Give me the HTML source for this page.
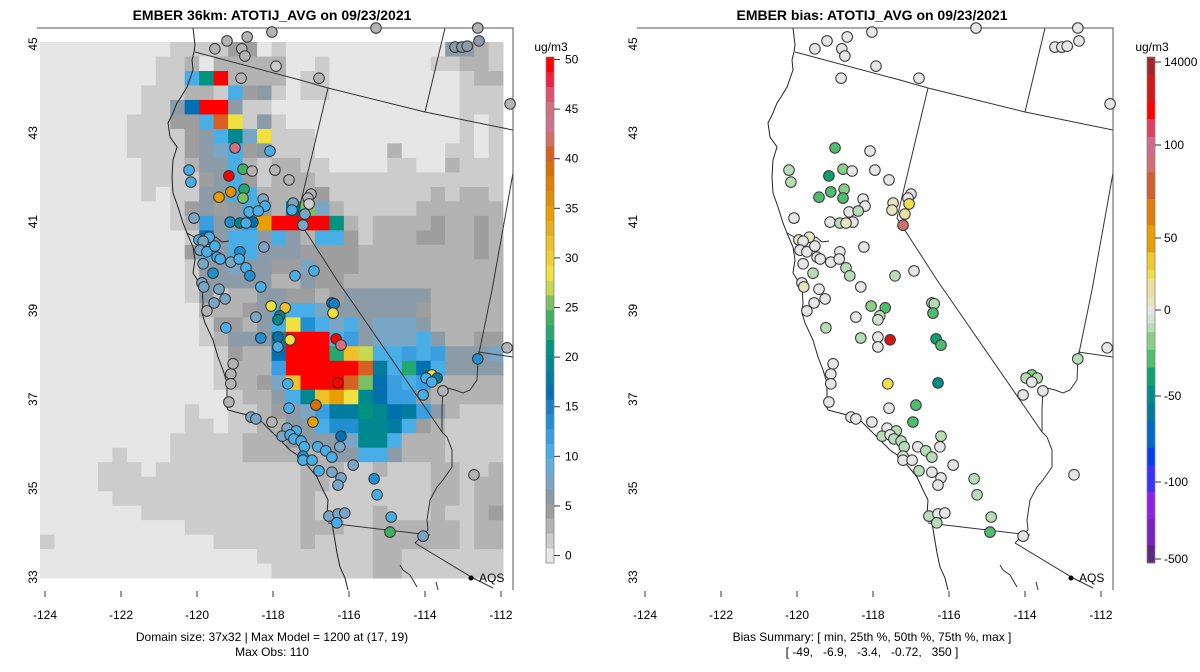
<!DOCTYPE html>
<html><head><meta charset="utf-8"><title>EMBER ATOTIJ_AVG</title>
<style>
html,body{margin:0;padding:0;background:#fff;}
svg{display:block;font-family:"Liberation Sans",Arial,sans-serif;}
</style></head>
<body>
<svg id="root" width="1200" height="672" viewBox="0 0 1200 672" xmlns="http://www.w3.org/2000/svg">
<defs><clipPath id="clipL"><rect x="0" y="28" width="513" height="562"/></clipPath></defs>
<text x="272" y="20" text-anchor="middle" font-size="14" font-weight="bold">EMBER 36km: ATOTIJ_AVG on 09/23/2021</text>
<text x="872" y="20" text-anchor="middle" font-size="14" font-weight="bold">EMBER bias: ATOTIJ_AVG on 09/23/2021</text>
<text x="272" y="641" text-anchor="middle" font-size="12">Domain size: 37x32 | Max Model = 1200 at (17, 19)</text>
<text x="272" y="656" text-anchor="middle" font-size="12">Max Obs: 110</text>
<text x="872" y="641" text-anchor="middle" font-size="12">Bias Summary: [ min, 25th %, 50th %, 75th %, max ]</text>
<text x="872" y="656" text-anchor="middle" font-size="12" xml:space="preserve">[ -49,   -6.9,   -3.4,   -0.72,   350 ]</text>
<g id="leftPanel"></g>
<g id="rightPanel"></g>
<g id="leftBar"></g>
<g id="rightBar"></g>
</svg>
<script>
const gridRows=[
"aaaaaaaaabbbbddabaaaaaaaaaaaeecb",
"aaaaaaaabbcacccccaabaaaaaaabbccb",
"aaaaaaaabbgmvccccabbaaaaaaaaabcc",
"aaaaaaabbbccbgdebabbaaaaaaaaabbb",
"aaaaaaabbejvvebbaaaaaaaaaaaaabbb",
"aaaaaabbbddgtqbebaaaaaaaaaaaabab",
"aaaaaabbbbdeglfqbbbaaaaaaaaaabab",
"aaaaaabbbbdefgdebbbaaaaacaaabbab",
"aaaaaaabbbceegcbccbbaaaabbaacbbb",
"aaaaaaabbbbdegdbcccbbbbbbbbbbbbb",
"aaaaaaababbeeggccccdbbbbbbbcbccb",
"aaaaaaaaabdedegeckofcbbbbbcccccc",
"aaaaaaaaabcheehsvvvvmcbccccdccdc",
"aaaaaaaaaabjeggegecggdbcccddccdc",
"aaaaaaaaaadgeggeeeddddccccccccdc",
"aaaaaaaaaabeefeeddfdddcccccccccc",
"aaaaaaaaaabeeeeecceddccccccccccc",
"aaaaaaaaaabebcceeddcdeeeeeeccccc",
"aaaaaaaaaaacccdegggfeeeeeedccccc",
"aaaaaaaaaaabddcegqigfgefffeccccc",
"aaaaaaaaaaabceeelvvvghefffgeccdd",
"aaaaaaaaaaaabdccjvvvnrpgghgheeef",
"aaaaaaaaaaaabccchvvvvvtkgnjgeeee",
"aaaaaaaaaaaabccdfrvvvtojhghccccc",
"aaaaaaaaaaaaabcceglrsqljhhdccccc",
"aaaaaaaaaabaabbcdefhkkmljkhecbbb",
"aaaaaaaaaabbabbcceegiillkgdcbbbb",
"aaaaaaaaabbbbbccceeeefllgcccbbbb",
"aaaaabaaabbbbbcccccceeggecccbbbb",
"aaaabbbabbbbbbbbbbcccbbcbbbccbbc",
"aaaabbbbbbbbbbbbbbccbbbbbbbccbcc",
"aaaaabbbbbbbbbbbbbcbbbbbbbbccbcc",
"aaaaaaabbbbbbbbbbbcbbbbcbbbcbbcd",
"aaaaaaaaaabbbbbbbbcccbbccccccbcc",
"baaaaaaaaaaabbbbbbcbbbbccccccbcc",
"aaaaaaaaaaaaaaabbbbbbbbccbbbbbbb",
"aaaaaaaaaaaaaaaabbbbbbbccbbbbbbb"];
const levelCodes="abcdefghijklmnopqrstuv";
const levelValues=[0,1.5,3,4.5,6,7.5,10.5,12,13.5,16.5,18,19.5,21,22.5,25.5,27,28.5,31.5,34.5,40.5,46.5,51];
const concPalette=["#e6e6e6","#cccccc","#b3b3b3","#9e9e9e","#8c9ba8","#7aa6c6","#63aedc","#4aaee6","#3a9ee0","#2090d0","#1a7ec4","#0070b0","#007ca0","#008890","#009480","#22a870","#40b060","#7ac060","#c8d850","#f0e040","#f0d030","#f0c028","#e8b018","#e8a000","#e09000","#e08000","#d87000","#d86020","#d07060","#d07090","#d07080","#e05070","#f02040","#ff0000"];
const concTicks=[0,5,10,15,20,25,30,35,40,45,50];
const biasStopVals=[-150,-130,-115,-100,-85,-70,-60,-50,-40,-30,-20,-10,-3,0,5,15,25,35,50,65,80,90,100,110,120,135,150];
const biasStopCols=["#5a2a80","#7a22c0","#9020e8","#3a30ff","#0040f0","#0068c8","#007a9c","#008c88","#10a070","#50bc70","#88d088","#b8dcb8","#d4e2d4","#e6e6e6","#e8e4c0","#ece0a0","#f0e050","#f0c830","#e8a000","#e08000","#d06030","#d07070","#d06890","#e04060","#ff0000","#d01818","#a02828"];
const biasTickLabels=["14000","100","50","0","-50","-100","-500"];
const biasTickVals=[150,100,50,0,-50,-100,-150];
const xTicks=[-124,-122,-120,-118,-116,-114,-112];
const yTicks=[45,43,41,39,37,35,33];
const stLon=[-118.68,-119.21,-118.03,-119.53,-118.82,-118.74,-117.92,-118.84,-116.79,-115.29,-113.21,-113.03,-112.89,-112.58,-112.61,-111.76,-119.00,-118.08,-120.21,-120.16,-119.16,-118.79,-118.55,-117.95,-117.58,-118.76,-119.11,-119.42,-118.79,-118.26,-118.21,-118.63,-118.39,-118.53,-119.13,-118.87,-118.71,-120.08,-117.00,-117.08,-117.47,-117.05,-117.50,-117.16,-117.21,-119.95,-119.68,-119.84,-119.92,-119.74,-119.53,-119.47,-119.39,-119.11,-118.87,-118.89,-118.24,-119.84,-119.58,-118.71,-118.61,-119.87,-119.82,-119.42,-119.26,-119.55,-119.74,-118.32,-117.42,-116.92,-116.45,-116.39,-116.42,-118.05,-117.68,-117.82,-117.87,-118.45,-119.24,-118.32,-117.87,-117.55,-117.87,-116.34,-116.21,-111.84,-119.05,-119.11,-119.11,-117.61,-116.29,-119.16,-117.58,-116.87,-116.95,-118.58,-118.45,-118.03,-117.63,-117.39,-117.76,-117.55,-117.45,-117.26,-117.18,-116.21,-116.82,-116.61,-116.45,-116.24,-117.21,-117.21,-116.97,-115.89,-116.79,-116.45,-116.21,-116.29,-115.34,-115.26,-116.53,-116.29,-116.11,-116.32,-114.89,-114.92,-114.05,-112.61,-113.82,-113.97,-113.68,-113.82,-114.05,-113.53,-112.71];
const stLat=[45.16,45.07,45.27,44.89,44.89,44.73,44.50,44.23,44.23,45.36,44.93,44.93,44.95,45.07,45.36,43.65,42.66,42.59,42.16,41.89,42.03,42.18,42.14,42.16,41.94,41.73,41.67,41.55,41.53,41.51,41.35,41.22,41.24,40.99,40.99,40.97,40.97,41.08,41.62,41.53,41.42,41.40,41.26,41.17,40.92,40.59,40.65,40.56,40.36,40.32,40.45,40.20,40.16,40.09,40.32,40.16,40.43,40.05,39.84,39.96,39.78,39.62,39.53,39.48,39.26,39.17,38.99,39.53,39.78,39.89,39.17,39.15,38.94,39.10,39.06,38.88,38.79,38.85,38.61,38.38,38.40,38.34,38.18,38.36,38.22,38.16,37.80,37.57,37.35,37.35,37.37,36.94,36.80,36.87,36.49,36.60,36.56,36.49,36.35,36.29,36.17,36.20,36.11,36.06,35.93,36.17,35.93,35.84,35.70,35.93,35.72,35.63,35.63,35.52,35.39,35.36,35.23,35.07,35.21,34.85,34.37,34.42,34.44,34.22,34.35,34.01,33.92,37.91,37.55,37.48,37.48,37.39,37.10,37.19,35.30];
const stObs=[3,3,3,3,3,3,1,3,3,3,6,6,6,6,3,3,45,11,11,11,50,24,3,3,3,22,36,34,26,7,11,11,11,17,13,20,11,7,3,3,7,1,11,7,7,11,11,7,7,11,11,11,11,7,13,11,7,7,13,11,13,7,7,7,7,7,3,11,11,11,15,15,28,28,32,20,20,7,11,13,17,28,11,50,45,3,3,3,3,11,50,3,11,39,34,7,7,3,7,11,7,11,11,11,11,17,11,11,11,7,13,11,11,7,11,7,7,7,13,11,7,7,7,11,11,24,7,13,28,11,18,11,11,3,3];
const stBias=[0,0,0,0,0,0,0,0,0,0,0,0,0,0,0,0,-30,0,-8,-8,-35,-15,0,0,0,-15,-30,-30,-25,0,0,0,-8,0,0,-8,5,0,0,0,8,25,8,20,95,8,8,0,0,0,0,0,0,0,0,0,0,0,-8,-10,-10,0,8,0,0,0,0,0,-8,0,-10,-10,-25,-15,-25,-10,-5,0,-8,-10,0,140,0,-40,-25,0,0,0,0,25,-50,0,0,-25,-25,0,0,0,0,-8,-8,0,-8,-8,-8,-10,0,-8,-8,0,-5,0,0,0,-8,0,0,0,-10,-10,-8,0,0,-8,-8,-25,0,-8,-20,-8,-8,0,0,0,0];

const NS="http://www.w3.org/2000/svg";
function mk(tag,attrs,parent){const e=document.createElementNS(NS,tag);for(const k in attrs)e.setAttribute(k,attrs[k]);if(parent)parent.appendChild(e);return e;}
function xScale(lon){return 45+(lon+124)*38;}
function yScale(lat){return 577-(lat-33)*44.42;}
function concColor(v){let i=Math.round(v/1.5);if(i<0)i=0;if(i>33)i=33;return concPalette[i];}
function biasColor(v){let best=0,bd=1e9;for(let i=0;i<biasStopVals.length;i++){const d=Math.abs(biasStopVals[i]-v);if(d<bd){bd=d;best=i;}}return biasStopCols[best];}
const GX0=40,GY0=42,CW=14.47,CH=14.49;

const coast="M193,28 L195,45 L194,52 L192,60 L193,70 L187,87 L181,97 L177,103 L173,113 L168,123 L170,137 L177,147 L173,160 L172,177 L173,193 L178,207 L183,223 L187,233 L193,247 L195,260 L193,273 L202,287 L203,303 L202,313 L205,323 L213,340 L218,357 L223,370 L227,383 L227,397 L225,403 L228,410 L247,415 L260,420 L270,430 L280,440 L290,450 L300,457 L307,465 L317,477 L323,490 L328,500 L327,515 L332,523 L337,553 L340,567 L345,578 L348,590";
const bay="M187,233 L196,238 L203,236 L210,239 L216,237 L222,242 L229,241 M203,236 L206,244";
const borders=["M195,52 L300,80 L328,88 L425,112 L513,130","M445,28 L425,112","M328,88 L297,218 L337,280 L442,432","M442,432 L447,437 L452,450 L452,467 L443,480 L437,487 L430,500 L427,520 L428,530 L415,543","M513,173 L492,290 L478,358","M478,352 L513,357","M478,358 L477,380 L470,390 L463,393 L455,390 L443,387 L442,410 L442,432","M328,523 L430,535","M415,543 L473,578 L493,588","M400,565 L403,570 L410,575 L417,587","M436,582 L438,590"];

function drawPanel(g,isLeft){
  const off=isLeft?0:600;
  const pg=mk('g',{transform:'translate('+off+',0)'},g);
  if(isLeft){
    const gg=mk('g',{},pg);
    
    
    for(let r=0;r<gridRows.length;r++){
      for(let c=0;c<gridRows[r].length;c++){
        const v=levelValues[levelCodes.indexOf(gridRows[r][c])];
        const cell=mk('rect',{x:(GX0+c*CW).toFixed(2),y:(GY0+r*CH).toFixed(2),width:(CW+0.4).toFixed(2),height:(CH+0.4).toFixed(2),fill:concColor(v)},gg);
        
        
      }
    }
  }
  const lg=mk('g',{'clip-path':'url(#clipL)',fill:'none',stroke:'#333','stroke-width':'1'},pg);
  
  
  const cp=mk('path',{d:coast,stroke:'#222'},lg);
  
  
  const bp=mk('path',{d:bay,stroke:'#222'},lg);
  
  
  borders.forEach(d=>{const p=mk('path',{d:d},lg);
    
    });
  const fr=mk('path',{d:'M37,28 L513,28 L513,590',fill:'none',stroke:'#555','stroke-width':'1'},pg);
  
  
  const sg=mk('g',{},pg);
  
  
  for(let i=0;i<stLon.length;i++){
    const col=isLeft?concColor(stObs[i]):biasColor(stBias[i]);
    const c=mk('circle',{cx:xScale(stLon[i]).toFixed(1),cy:yScale(stLat[i]).toFixed(1),r:5.3,fill:col,stroke:'#333','stroke-width':'1'},sg);
    
    
  }
  const ad=mk('circle',{cx:471,cy:578,r:2.5,fill:'#000'},pg);
  
  
  const at=mk('text',{x:479,y:582,'font-size':'12'},pg);at.textContent='AQS';
  
  
  xTicks.forEach(t=>{
    const x=xScale(t);
    const tk=mk('line',{x1:x,x2:x,y1:591,y2:597,stroke:'#333'},pg);
    
    
    const tl=mk('text',{x:x,y:619,'font-size':'12','text-anchor':'middle'},pg);tl.textContent=String(t);
    
    
  });
  yTicks.forEach(t=>{
    const y=yScale(t);
    const tl=mk('text',{x:0,y:0,'font-size':'12','text-anchor':'middle',transform:'translate(37,'+y.toFixed(1)+') rotate(-90)'},pg);tl.textContent=String(t);
    
    
  });
}
drawPanel(document.getElementById('leftPanel'),true);
drawPanel(document.getElementById('rightPanel'),false);

(function(){
  const g=document.getElementById('leftBar');
  const top=57,bot=563,n=concPalette.length,h=(bot-top)/n;
  function cy(v){return bot-(v/1.5+0.5)*h;}
  for(let i=0;i<n;i++){
    const r=mk('rect',{x:546,y:(bot-(i+1)*h).toFixed(2),width:8,height:(h+0.3).toFixed(2),fill:concPalette[i]},g);
    
    
  }
  const fr=mk('rect',{x:546,y:top,width:8,height:bot-top,fill:'none',stroke:'#888','stroke-width':'0.8'},g);
  
  
  concTicks.forEach(t=>{const y=cy(t);
    const l=mk('line',{x1:554,x2:560,y1:y,y2:y,stroke:'#333'},g);
    
    
    const tx=mk('text',{x:565,y:y+4,'font-size':'12'},g);tx.textContent=String(t);
    
    });
  const u=mk('text',{x:551,y:51,'font-size':'12','text-anchor':'middle'},g);u.textContent='ug/m3';
  
  
})();
(function(){
  const g=document.getElementById('rightBar');
  const top=57,bot=563;
  const tickY=[62,145,238,310,396,482,559];
  function valAt(y){
    if(y<=tickY[0])return biasTickVals[0];
    for(let i=0;i<tickY.length-1;i++){if(y<=tickY[i+1]){const f=(y-tickY[i])/(tickY[i+1]-tickY[i]);return biasTickVals[i]+f*(biasTickVals[i+1]-biasTickVals[i]);}}
    return biasTickVals[biasTickVals.length-1];
  }
  const n=57,h=(bot-top)/n;
  for(let i=0;i<n;i++){
    const y=top+i*h;
    const r=mk('rect',{x:1147,y:y.toFixed(2),width:8,height:(h+0.3).toFixed(2),fill:biasColor(valAt(y+h/2))},g);
    
    
  }
  const fr=mk('rect',{x:1147,y:top,width:8,height:bot-top,fill:'none',stroke:'#888','stroke-width':'0.8'},g);
  
  
  biasTickLabels.forEach((t,i)=>{const y=tickY[i];
    const l=mk('line',{x1:1155,x2:1161,y1:y,y2:y,stroke:'#333'},g);
    
    
    const tx=mk('text',{x:1164,y:y+4,'font-size':'12'},g);tx.textContent=t;
    
    });
  const u=mk('text',{x:1152,y:51,'font-size':'12','text-anchor':'middle'},g);u.textContent='ug/m3';
  
  
})();
</script>
</body></html>
